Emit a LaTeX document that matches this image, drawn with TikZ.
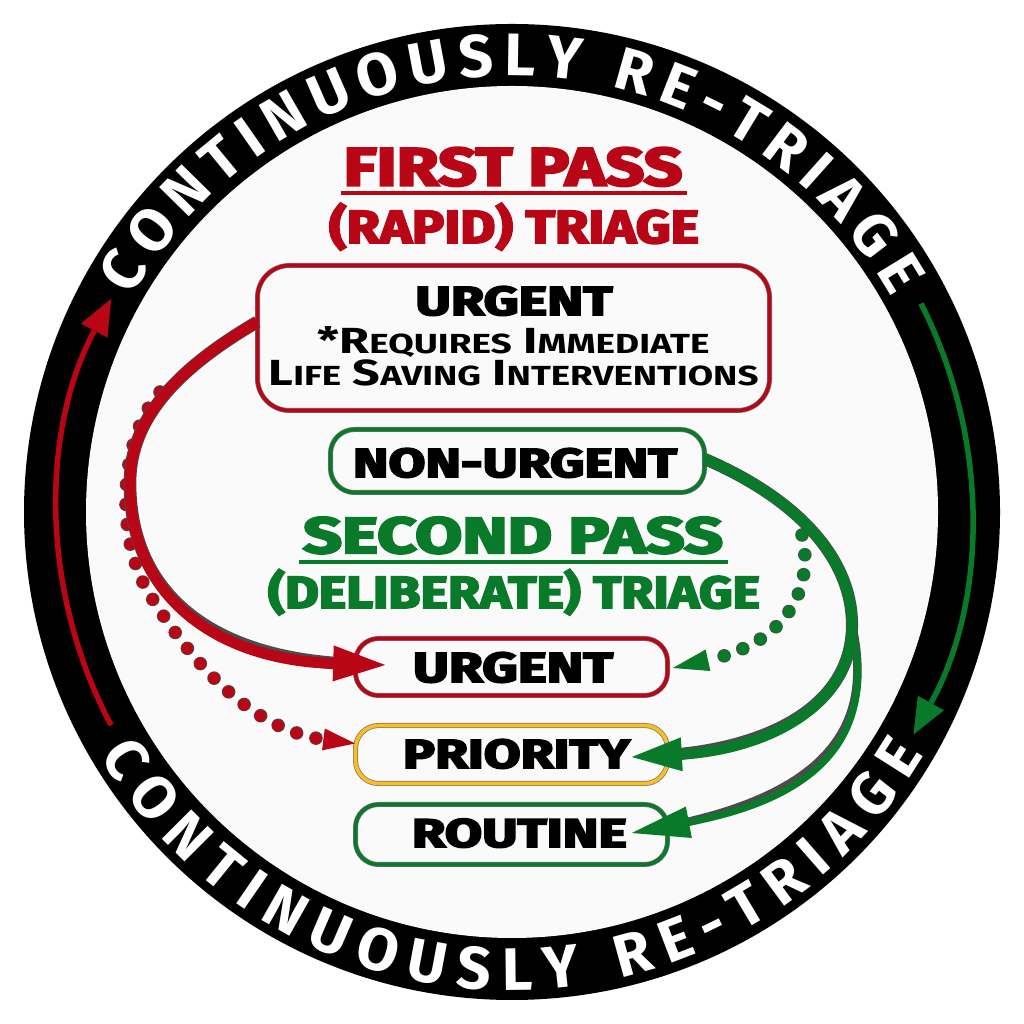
\documentclass[tikz,border=0pt]{standalone}
\usepackage{fontspec}
\usepackage{graphicx}
\setmainfont{Fira Sans}
\newfontfamily\fira{Fira Sans}
\newfontfamily\heavy{Fira Sans}[BoldFeatures={FakeBold=4}]
\usetikzlibrary{arrows.meta,decorations.text}
\definecolor{cred}{RGB}{185,6,22}
\definecolor{cgreen}{RGB}{8,122,42}
\definecolor{cyell}{RGB}{250,190,35}
\definecolor{bgin}{RGB}{250,250,250}
\newcommand\fs[1]{\fontsize{#1pt}{#1pt}\selectfont}
\newcommand\fitw[3]{\resizebox{#1pt}{\height}{\heavy\bfseries\fs{#2}#3}}
\newcommand\bigc[1]{{\fs{36.3}#1}}
\newcommand\smc[1]{{\fs{27.6}#1}}
\newcommand\ringfont{\fira\bfseries\fs{60}}
\begin{document}
\begin{tikzpicture}[x=1pt,y=1pt,
  txt/.style={inner sep=0pt, anchor=base},
  boxs/.style={rectangle, inner sep=0pt, draw=black!55, line width=0.7pt, double distance=3.6pt, fill=bgin},
  smallbox/.style={boxs, rounded corners=23pt, minimum width=312pt},
  dotline/.style={line width=12pt, dash pattern=on 0pt off 20pt, line cap=round},
  outl/.style={preaction={draw=black!70, line width=#1, arrows=-, shorten >=30pt}},
  dotoutl/.style={preaction={draw=black!70, line width=13.6pt, dash pattern=on 0pt off 20pt, line cap=round, arrows=-, shorten >=#1}},
  ringtext/.style={decorate, decoration={text along path, text={|\ringfont|CONTINUOUSLY RE-TRIAGE}, text align={fit to path}, text color=white}},
]
\useasboundingbox (0,0) rectangle (1024,1024);
\fill[white] (0,0) rectangle (1024,1024);
\coordinate (ctr) at (512,512);
\fill[black] (ctr) circle[radius=488];
\fill[bgin] (ctr) circle[radius=426];

% ring text
\path[ringtext] ([shift={(150.5:436.5)}]ctr) arc[start angle=150.5, end angle=29.5, radius=436.5];
\path[ringtext] ([shift={(210.5:478.5)}]ctr) arc[start angle=210.5, end angle=329.5, radius=478.5];

% ring arrows
\draw[cred, line width=5.5pt, -{Triangle[length=36pt,width=30pt,line width=0pt]}]
  ([shift={(208:454)}]ctr) arc[start angle=208, end angle=152, radius=454];
\draw[cgreen, line width=5.5pt, -{Triangle[length=36pt,width=30pt,line width=0pt]}]
  ([shift={(27:459)}]ctr) arc[start angle=27, end angle=-29, radius=459];

% titles
\node[txt, text=cred] (fp) at (513,838.5) {\fitw{339}{53.7}{FIRST PASS}};
\draw[cred, line width=4pt] (341,831) -- (687,831);
\node[txt, text=cred] (rapid) at (514,781) {\fitw{370}{46.4}{(RAPID) TRIAGE}};

\node[txt, text=cgreen] (sp) at (513,471) {\fitw{420}{50.8}{SECOND PASS}};
\draw[cgreen, line width=4pt] (299,462) -- (728,462);
\node[txt, text=cgreen] (delib) at (514,416) {\fitw{492}{45}{(DELIBERATE) TRIAGE}};

% boxes
\node[boxs, double=cred, rounded corners=32pt, minimum width=512pt, minimum height=145pt] (b1) at (513.5,686) {};
\node[boxs, double=cgreen, rounded corners=24pt, minimum width=374pt, minimum height=63pt] (bnu) at (517.5,563) {};
\node[smallbox, double=cred, minimum height=57pt] (bu2) at (511.5,357) {};
\node[smallbox, double=cyell, minimum height=58pt] (bpri) at (511.5,269.5) {};
\node[smallbox, double=cgreen, minimum height=60pt] (brout) at (511.5,189.5) {};

% box texts
\node[txt] (u1) at (514,709) {\fitw{197}{40.6}{URGENT}};
\node[txt] (req) at (513.5,670.4) {\resizebox{392pt}{\height}{\fira\bfseries\fs{36.3}\bigc{*R}\smc{EQUIRES} \bigc{I}\smc{MMEDIATE}}};
\node[txt] (life) at (513.5,638) {\resizebox{490pt}{\height}{\fira\bfseries\fs{36.3}\bigc{L}\smc{IFE} \bigc{S}\smc{AVING} \bigc{I}\smc{NTERVENTIONS}}};
\node[txt] (nu) at (515,547) {\fitw{324}{40.6}{NON-URGENT}};
\node[txt] (u2) at (513,342) {\fitw{200}{42}{URGENT}};
\node[txt] (pri) at (516.5,256) {\fitw{227}{40.6}{PRIORITY}};
\node[txt] (rout) at (519.5,177) {\fitw{215}{40}{ROUTINE}};

% red arrows
\coordinate (rd0) at (160,632);
\draw[cred, dotline, dotoutl=30pt, -{Triangle[length=32pt,width=22pt,line width=0pt]}]
  (rd0) .. controls (118,584) and (115,484) .. (150,429)
        .. controls (190,364) and (250,294) .. ([yshift=11pt]bpri.west);
\draw[cred, line width=11pt, outl=12.6pt, -{Triangle[length=52pt,width=36pt,line width=0pt]}]
  ([yshift=16pt]b1.west) .. controls (175,654) and (130,604) .. (130,541)
        .. controls (130,424) and (220,364) .. ([xshift=30pt,yshift=2pt]bu2.west);

% green arrows
\coordinate (gd0) at (802,489);
\draw[cgreen, dotline, dotoutl=34pt, -{Triangle[length=36pt,width=22pt,line width=0pt]}]
  (gd0) .. controls (812,449) and (800,384) .. ([xshift=5pt,yshift=-1pt]bu2.east);
\draw[cgreen, line width=7pt, outl=8.6pt, -{Triangle[length=58pt,width=32pt,line width=0pt]}]
  ([yshift=2pt]bnu.east) .. controls (800,524) and (852,464) .. (852,399)
        .. controls (868,324) and (860,234) .. ([xshift=-36pt,yshift=1.5pt]brout.east);
\draw[cgreen, line width=10.5pt, outl=12.1pt, -{Triangle[length=50pt,width=34pt,line width=0pt]}]
  ([yshift=2pt]bnu.east) .. controls (800,524) and (852,464) .. (852,399)
        .. controls (852,314) and (760,274) .. ([xshift=-36pt,yshift=-2.5pt]bpri.east);
\end{tikzpicture}
\end{document}
